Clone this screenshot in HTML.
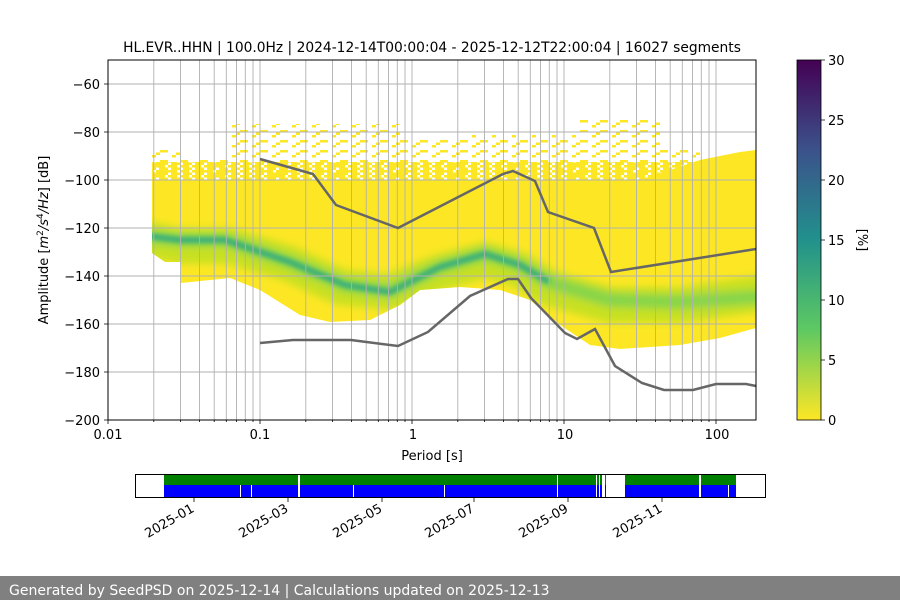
<!DOCTYPE html>
<html><head><meta charset="utf-8"><style>
body{margin:0;background:#fff;width:900px;height:600px;overflow:hidden;font-family:"DejaVu Sans","Liberation Sans",sans-serif}
</style></head><body>
<svg width="900" height="600" xmlns="http://www.w3.org/2000/svg" font-family="DejaVu Sans, Liberation Sans, sans-serif">
<defs>
<linearGradient id="cb" x1="0" y1="1" x2="0" y2="0">
<stop offset="0" stop-color="#fde725"/><stop offset="0.25" stop-color="#5ec962"/><stop offset="0.5" stop-color="#21918c"/><stop offset="0.75" stop-color="#3b528b"/><stop offset="1" stop-color="#440154"/></linearGradient>
<filter id="bl" x="-10%" y="-50%" width="120%" height="200%"><feGaussianBlur stdDeviation="4"/></filter>
<filter id="bl2" x="-10%" y="-50%" width="120%" height="200%"><feGaussianBlur stdDeviation="2"/></filter>
<clipPath id="cp"><rect x="108" y="60" width="648" height="360"/></clipPath>
<clipPath id="yc"><polygon points="152,180 640,180 700,160 740,152 756,150 756,328 720,338 680,345 620,349 590,345 560,325 530,300 500,290 460,287 420,290 400,305 370,320 330,322 300,315 260,290 230,278 181,283 181,262 165,262 152,253"/></clipPath>
<pattern id="sp" x="0" y="0" width="20" height="10" patternUnits="userSpaceOnUse">
<rect x="0" y="0" width="8" height="2.5" fill="#fde725"/><rect x="12" y="5" width="4" height="2.5" fill="#fde725"/><rect x="16" y="2.5" width="4" height="2.5" fill="#fde725"/></pattern>
<pattern id="dp" x="0" y="0" width="12" height="5" patternUnits="userSpaceOnUse">
<rect x="0" y="0" width="9" height="2.6" fill="#fde725"/><rect x="3" y="2.5" width="9" height="2.6" fill="#fde725"/></pattern>
</defs>
<g clip-path="url(#cp)">
<polygon fill="url(#sp)" points="152,150 181,150 181,158 230,158 230,124 400,124 400,140 470,140 470,135 580,135 580,118 660,118 660,150 700,150 700,180 152,180"/>
<polygon fill="url(#dp)" points="152,162 700,162 700,180 152,180"/>
<polygon fill="#fde725" points="152,180 640,180 700,160 740,152 756,150 756,328 720,338 680,345 620,349 590,345 560,325 530,300 500,290 460,287 420,290 400,305 370,320 330,322 300,315 260,290 230,278 181,283 181,262 165,262 152,253"/>
<g clip-path="url(#yc)">
<g filter="url(#bl)">
<path fill="none" stroke="#c8e020" stroke-width="36" stroke-linejoin="round" d="M140,238 L180,246 L230,246 L290,264 L340,287 L390,292 L440,272 L485,260 L520,270 L549,288 L610,305 L680,305 L770,292"/>
<path fill="none" stroke="#86d549" stroke-width="14" stroke-linejoin="round" d="M140,236 L180,240 L225,240 L290,262 L345,285 L390,291 L440,267 L485,254 L520,265 L549,282 L610,300 L680,302 L770,296"/>
</g>
<path filter="url(#bl2)" fill="none" stroke="#3cb07a" stroke-width="6" stroke-linejoin="round" d="M140,235 L180,240 L225,240 L290,262 L345,285 L390,292 L440,267 L485,254 L520,265 L549,282"/>
</g>
</g>
<path stroke="#b0b0b0" stroke-width="0.9" fill="none" d="M153.8,60V420M180.5,60V420M199.5,60V420M214.2,60V420M226.3,60V420M236.5,60V420M245.3,60V420M253,60V420M260,60V420M305.8,60V420M332.5,60V420M351.5,60V420M366.2,60V420M378.3,60V420M388.5,60V420M397.3,60V420M405,60V420M412,60V420M457.8,60V420M484.5,60V420M503.5,60V420M518.2,60V420M530.3,60V420M540.5,60V420M549.3,60V420M557,60V420M564,60V420M609.8,60V420M636.5,60V420M655.5,60V420M670.2,60V420M682.3,60V420M692.5,60V420M701.3,60V420M709,60V420M716,60V420M108,84H756M108,132H756M108,180H756M108,228H756M108,276H756M108,324H756M108,372H756"/>
<polyline fill="none" stroke="#666" stroke-width="2.5" points="260,159 313,174 336,205 398,228 503,174 513,171 535,181 548,212 594,228 611,272 756,249"/>
<polyline fill="none" stroke="#666" stroke-width="2.5" points="260,343 293,340 351,340 398,346 428,332 470,296 508,279 518,279 531,298 565,333 577,339 595,329 615,366 642,383 664,390 693,390 716,384 746,384 756,386"/>
<rect x="108" y="60" width="648" height="360" fill="none" stroke="#000" stroke-width="1"/>
<path stroke="#000" stroke-width="0.8" fill="none" d="M108,420v4M260,420v4M412,420v4M564,420v4M716,420v4M153.8,420v2M180.5,420v2M199.5,420v2M214.2,420v2M226.3,420v2M236.5,420v2M245.3,420v2M253,420v2M305.8,420v2M332.5,420v2M351.5,420v2M366.2,420v2M378.3,420v2M388.5,420v2M397.3,420v2M405,420v2M457.8,420v2M484.5,420v2M503.5,420v2M518.2,420v2M530.3,420v2M540.5,420v2M549.3,420v2M557,420v2M609.8,420v2M636.5,420v2M655.5,420v2M670.2,420v2M682.3,420v2M692.5,420v2M701.3,420v2M709,420v2M104,84h4M104,132h4M104,180h4M104,228h4M104,276h4M104,324h4M104,372h4M104,420h4"/>
<g font-size="13" fill="#000" text-anchor="end">
<text x="100" y="89">−60</text><text x="100" y="137">−80</text><text x="100" y="185">−100</text><text x="100" y="233">−120</text><text x="100" y="281">−140</text><text x="100" y="329">−160</text><text x="100" y="377">−180</text><text x="100" y="425">−200</text>
</g>
<g font-size="13" fill="#000" text-anchor="middle">
<text x="108" y="439">0.01</text><text x="260" y="439">0.1</text><text x="413" y="439">1</text><text x="565" y="439">10</text><text x="717" y="439">100</text>
<text x="432" y="460">Period [s]</text>
<text x="432" y="52" font-size="13.8">HL.EVR..HHN | 100.0Hz | 2024-12-14T00:00:04 - 2025-12-12T22:00:04 | 16027 segments</text>
</g>
<text transform="translate(48,240) rotate(-90)" font-size="13" text-anchor="middle">Amplitude [<tspan font-style="italic">m</tspan><tspan font-size="9" dy="-5">2</tspan><tspan dy="5" font-style="italic">/s</tspan><tspan font-size="9" dy="-5">4</tspan><tspan dy="5" font-style="italic">/Hz</tspan>] [dB]</text>
<rect x="797" y="60" width="24" height="360" fill="url(#cb)" stroke="#000" stroke-width="0.8"/>
<path stroke="#000" stroke-width="0.8" d="M821,420h4M821,360h4M821,300h4M821,240h4M821,180h4M821,120h4M821,60h4"/>
<g font-size="13"><text x="828" y="425">0</text><text x="828" y="365">5</text><text x="828" y="305">10</text><text x="828" y="245">15</text><text x="828" y="185">20</text><text x="828" y="125">25</text><text x="828" y="65">30</text></g>
<text transform="translate(858,240) rotate(90)" font-size="13" text-anchor="middle">[%]</text>
<rect x="164" y="475" width="572" height="10" fill="#008000"/>
<rect x="164" y="485" width="572" height="12" fill="#0000ff"/>
<g fill="#fff">
<rect x="298" y="475" width="2" height="22"/><rect x="557" y="475" width="1" height="22"/><rect x="596" y="475" width="1" height="22"/><rect x="599" y="475" width="1" height="22"/><rect x="602" y="475" width="3" height="22"/><rect x="606" y="475" width="19" height="22"/><rect x="699" y="475" width="2" height="22"/>
<rect x="240" y="485" width="1" height="12"/><rect x="251" y="485" width="1" height="12"/><rect x="353" y="485" width="1" height="12"/><rect x="444" y="485" width="1" height="12"/><rect x="728" y="485" width="1" height="12"/>
</g>
<rect x="135.5" y="474.5" width="630" height="23" fill="none" stroke="#000" stroke-width="1"/>
<path stroke="#000" stroke-width="0.8" d="M194,498v4M288,498v4M382,498v4M474,498v4M568,498v4M662,498v4"/>
<g font-size="13" text-anchor="end">
<text transform="translate(195,511) rotate(-30)">2025-01</text>
<text transform="translate(289,511) rotate(-30)">2025-03</text>
<text transform="translate(383,511) rotate(-30)">2025-05</text>
<text transform="translate(475,511) rotate(-30)">2025-07</text>
<text transform="translate(569,511) rotate(-30)">2025-09</text>
<text transform="translate(663,511) rotate(-30)">2025-11</text>
</g>
<rect x="0" y="576" width="900" height="24" fill="#808080"/>
<text x="9" y="595" font-size="14" fill="#fff">Generated by SeedPSD on 2025-12-14 | Calculations updated on 2025-12-13</text>
</svg>
</body></html>
